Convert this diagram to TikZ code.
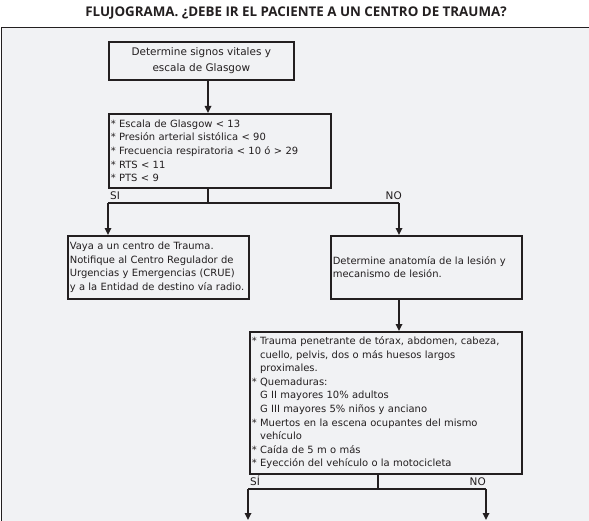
\documentclass[tikz,border=0pt]{standalone}
\usepackage{fontspec}
\setmainfont{DejaVu Sans}
\newfontfamily\titlefont{Open Sans}
\usetikzlibrary{arrows.meta, positioning, calc}
\definecolor{panel}{HTML}{F1F2F4}
\definecolor{ink}{HTML}{231F20}

\begin{document}
\begin{tikzpicture}[x=1bp, y=-1bp,
  box/.style={draw=ink, line width=1.6bp, rectangle, inner sep=2bp, anchor=north west,
    align=left, text=ink, font=\fontsize{10}{13.6}\selectfont},
  line/.style={draw=ink, line width=1.6bp},
  arr/.style={line, -{Triangle[length=7bp,width=6.5bp]}},
  lbl/.style={text=ink, inner sep=0pt, font=\fontsize{10.5}{11}\selectfont}]
  % Page and frame
  \useasboundingbox (0,0) rectangle (589,521);
  \fill[panel] (1.5,28) rectangle (589,521);
  \draw[ink, line width=1bp] (1.5,521) -- (1.5,28) -- (589,28);

  % Title
  \node[text=ink, font=\titlefont\bfseries\fontsize{13.4}{14}\selectfont] (title) at (296,13)
    {FLUJOGRAMA. ¿DEBE IR EL PACIENTE A UN CENTRO DE TRAUMA?};

  % Boxes
  \node[box, align=center, minimum width=185bp, minimum height=38bp,
    font=\fontsize{10.5}{16}\selectfont] (vitals) at (108,41)
    {Determine signos vitales y\\escala de Glasgow};
  \node[box, minimum width=222bp, minimum height=74bp, text width=218bp] (criteria) at (108,113)
    {{*} Escala de Glasgow < 13\\
     {*} Presión arterial sistólica < 90\\
     {*} Frecuencia respiratoria < 10 ó > 29\\
     {*} RTS < 11\\
     {*} PTS < 9};
  \node[box, minimum width=181bp, minimum height=63bp, text width=177bp] (gotrauma) at (67,235)
    {Vaya a un centro de Trauma.\\
     Notifique al Centro Regulador de\\
     Urgencias y Emergencias (CRUE)\\
     \mbox{y a la Entidad de destino vía radio.}};
  \node[box, minimum width=191bp, minimum height=63bp, text width=187bp] (anatomy) at (330,235)
    {Determine anatomía de la lesión y\\
     mecanismo de lesión.};
  \node[box, minimum width=272bp, minimum height=142bp, text width=268bp] (mechanism) at (249,331)
    {\mbox{{*} Trauma penetrante de tórax, abdomen, cabeza,}\\
     \hphantom{* }cuello, pelvis, dos o más huesos largos\\
     \hphantom{* }proximales.\\
     {*} Quemaduras:\\
     \hphantom{* }G II mayores 10\% adultos\\
     \hphantom{* }G III mayores 5\% niños y anciano\\
     {*} Muertos en la escena ocupantes del mismo\\
     \hphantom{* }vehículo\\
     {*} Caída de 5 m o más\\
     {*} Eyección del vehículo o la motocicleta};

  % Junctions
  \coordinate (splitA) at (208,203);
  \coordinate (leftA) at (108,203);
  \coordinate (rightA) at (399,203);
  \coordinate (splitB) at (378,489);
  \coordinate (leftB) at (248,489);
  \coordinate (rightB) at (486,489);
  \coordinate (endL) at (248,520);
  \coordinate (endR) at (486,520);

  % Connectors
  \draw[arr] (vitals.south -| splitA) -- (criteria.north -| splitA);
  \draw[line] (criteria.south -| splitA) -- (splitA);
  \draw[line] (leftA) -- (rightA);
  \draw[arr] (leftA) -- (gotrauma.north -| leftA);
  \draw[arr] (rightA) -- (anatomy.north -| rightA);
  \draw[arr] (anatomy.south -| rightA) -- (mechanism.north -| rightA);
  \draw[line] (mechanism.south -| splitB) -- (splitB);
  \draw[line] (leftB) -- (rightB);
  \draw[arr] (leftB) -- (endL);
  \draw[arr] (rightB) -- (endR);

  % Branch labels
  \node[lbl, anchor=south west] (siA) at (110,200) {SI};
  \node[lbl, anchor=south east] (noA) at (402,200) {NO};
  \node[lbl, anchor=south west] (siB) at (250,486) {SÍ};
  \node[lbl, anchor=south east] (noB) at (486,486) {NO};
\end{tikzpicture}
\end{document}
